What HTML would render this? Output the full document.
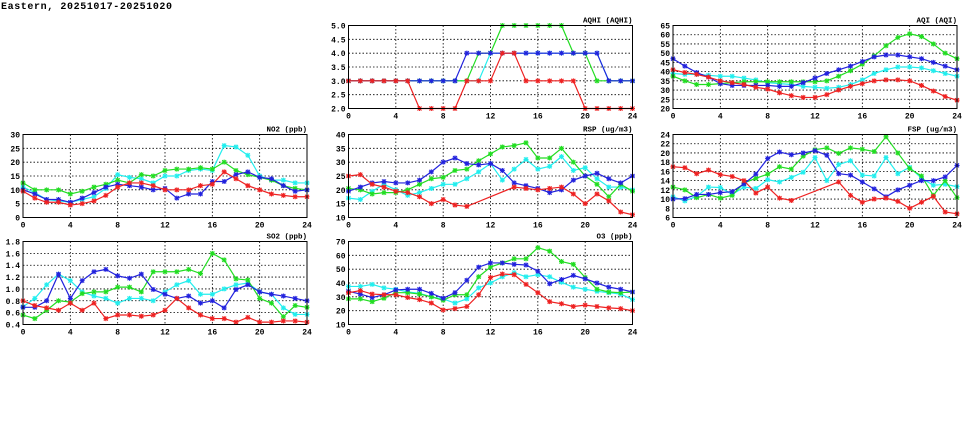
<!DOCTYPE html>
<html><head><meta charset="utf-8"><style>
body{margin:0;background:#fff;width:975px;height:447px;overflow:hidden}
svg{display:block}
text{font-family:"Liberation Mono",monospace;font-weight:bold;font-size:8px;fill:#000}
</style></head><body>
<svg id="s" width="975" height="447" xmlns="http://www.w3.org/2000/svg">
<text x="1" y="9" style="font-size:10px;letter-spacing:0.6px">Eastern, 20251017-20251020</text>
</svg>
<script>
const N=null;
const P=[
{t:"AQHI (AQHI)",x:348.5,y:25.5,lo:2,hi:5,st:0.5,d:1,
 c:[3,3,3,3,3,3,3,3,3,3,3,3,4,4,4,4,4,4,4,4,4,4,3,3,3],
 g:[3,3,3,3,3,3,3,3,3,3,3,4,4,5,5,5,5,5,5,4,4,3,3,3,3],
 b:[3,3,3,3,3,3,3,3,3,3,4,4,4,4,4,4,4,4,4,4,4,4,3,3,3],
 r:[3,3,3,3,3,3,2,2,2,2,3,3,3,4,4,3,3,3,3,3,2,2,2,2,2]},
{t:"AQI (AQI)",x:673,y:25.5,lo:20,hi:65,st:5,d:0,
 b:[47,43,39.5,37,33.5,32.5,32.5,32.5,32.5,32,32,34,36.5,39,41,43,45.5,48,49,49,48,47,45,43,41],
 g:[37.5,35,33,33,33.5,34,34.5,34.5,34.5,34.5,34.5,34.5,34.5,35,37.5,40.5,44,48.5,54,58.5,60.5,59,55,50,47],
 c:[39,38.5,38.5,38,37.5,37.5,36.5,35.5,34,33.5,33,32,31.5,31,31.5,33,35.5,39,41,42.5,42.5,42,40.5,39,37.5],
 r:[41,39.5,38.5,37,35,34,33,31.5,30.5,28.5,27,26,26,27.5,30,32,33.5,35,35.5,35.5,35,32.5,29.5,26.5,24.5]},
{t:"NO2 (ppb)",x:23,y:134.5,lo:0,hi:30,st:5,d:0,
 r:[9.5,7,5.5,5.5,4.5,5,6,8,11,12.5,12.5,11.5,10,10,10,11.5,12,16.5,14,11.5,10,8.5,8,7.5,7.5],
 g:[12.5,10,10,10,8.5,9.5,11,12,13.5,12.5,15.5,15,17,17.5,17.5,18,17.5,20,17,15.5,14.5,13.5,11.5,10.5,10],
 c:[11,9,6.5,6,5.5,6.5,7.5,10.5,15.5,14.5,14,12.5,15,15,17,17.5,17,26,25.5,22.5,15,13.5,13.5,12.5,12.5],
 b:[10,8.5,6.5,6.5,5.5,7,9,11,12,11.5,11,10,10.5,7,8.5,8.5,13,13,15.5,16.5,14.5,14,11.5,9.5,10]},
{t:"RSP (ug/m3)",x:348.5,y:134.5,lo:10,hi:40,st:5,d:0,
 r:[25,25.5,22,21,19.5,19,17.5,15,16.5,14.5,14,N,N,N,21,20.5,20,20.5,21,18.5,15,18.5,16,12,11],
 g:[20.5,20,18.5,19,19,20,22,24,24.5,27,27.5,30.5,33,35.5,36,37,31.5,31.5,35,30,25,22,17.5,22,19.5],
 c:[17,16.5,19.5,22,20,18,19,20.5,22,22,24,26.5,29.5,23.5,27.5,31,27.5,28.5,32,27,28,24,21,21,20],
 b:[19.5,21,22.5,23,22.5,22.5,23.5,26.5,30,31.5,29.5,29,29.5,27,22.5,21.5,20.5,19,20,23.5,25,26,24,22.5,25]},
{t:"FSP (ug/m3)",x:673,y:134.5,lo:6,hi:24,st:2,d:0,
 r:[17,16.8,15.5,16.3,15.3,14.9,14,11.3,12.6,10.2,9.7,N,N,N,13.7,10.8,9.3,10,10.2,9.5,8,9.3,10.6,7.2,6.8],
 g:[12.6,12,10.3,11,10.2,10.8,13.5,14.5,15.4,17,16.5,19.3,20.7,21.1,19.9,21.1,20.8,20.3,23.5,20,16.6,15,10.8,14,10.3],
 c:[10.5,9.6,10.6,12.6,12.5,11,12.6,12.3,14.2,13.7,14.7,15.8,19,14,17.5,18.3,15.2,15,19,15.5,16.9,14.5,13,13.2,12.7],
 b:[10,10.1,11,11,11.4,11.6,13.3,15.4,18.8,20.2,19.6,20,20.5,19.5,15.5,15.2,13.7,12.2,10.5,12,13,14,14,14.8,17.3]},
{t:"SO2 (ppb)",x:23,y:241.5,lo:0.4,hi:1.8,st:0.2,d:1,
 r:[.8,.72,.68,.64,.76,.64,.76,.5,.56,.56,.54,.56,.64,.84,.68,.56,.5,.5,.44,.52,.44,.44,.46,.46,.44],
 g:[.56,.5,.64,.8,.78,.92,.95,.95,1.03,1.03,.95,1.29,1.29,1.29,1.33,1.26,1.6,1.49,1.17,1.15,.84,.76,.53,.72,.69],
 c:[.7,.84,1.07,1.25,1.14,.95,.88,.84,.76,.84,.84,.8,.95,1.07,1.14,.91,.91,1.0,1.07,1.1,.95,.91,.68,.57,.57],
 b:[.69,.69,.8,1.25,.84,1.14,1.29,1.33,1.22,1.18,1.25,.99,.91,.84,.88,.76,.8,.68,.99,1.07,.95,.91,.88,.84,.8]},
{t:"O3 (ppb)",x:348.5,y:241.5,lo:10,hi:70,st:10,d:0,
 r:[33,34.5,32,31.5,31.5,29.5,28,25.5,20.5,21.5,23,31.5,44,46.5,46,39,33,26.5,25,23,24,23,22,21.5,20],
 g:[28.5,28.5,26.5,29,33,33,32,30,27.5,31.5,31.5,44.5,51.5,54.5,57.5,57.5,65.5,63,55.5,53.5,44,35.5,33.5,33,33.5],
 c:[37.5,37.5,39,36.5,35.5,33.5,32.5,30,28.5,25.5,28.5,36.5,40,44.5,47.5,44.5,46,44.5,40.5,37,35.5,34,33,32,28],
 b:[34,32,29.5,31.5,35,35.5,35.5,32.5,29,33,42,51.5,54.5,54.5,53.5,53,48.5,39.5,42.5,45.5,43,40,37,35.5,33.5]}
];
const W=284,H=83;
const col={c:"#22eeee",g:"#22dd22",b:"#2222dd",r:"#ee2222"};
let h="";
for(const p of P){
 const X=i=>p.x+i*W/24, Y=v=>p.y+H-(v-p.lo)/(p.hi-p.lo)*H;
 h+=`<text x="${p.x+W}" y="${p.y-3}" text-anchor="end" style="font-size:7.5px">${p.t}</text>`;
 for(let v=p.lo;v<=p.hi+1e-9;v+=p.st){
  const y=Y(v);
  if(v>p.lo+1e-9&&v<p.hi-1e-9)h+=`<line x1="${p.x}" x2="${p.x+W}" y1="${y}" y2="${y}" stroke="#000" stroke-width="0.8" stroke-dasharray="1.5,2"/>`;
  h+=`<text x="${p.x-3}" y="${y+3}" text-anchor="end">${v.toFixed(p.d)}</text>`;
 }
 for(let i=0;i<=24;i+=4){
  const x=X(i);
  if(i>0&&i<24)h+=`<line x1="${x}" x2="${x}" y1="${p.y}" y2="${p.y+H}" stroke="#000" stroke-width="0.8" stroke-dasharray="1.5,2"/>`;
  h+=`<text x="${x}" y="${p.y+H+10}" text-anchor="middle">${i}</text>`;
 }
 for(const k of ["c","g","b","r"]){
  const a=p[k];let pts=[];
  a.forEach((v,i)=>{if(v!==null)pts.push([X(i),Y(v)])});
  h+=`<polyline fill="none" stroke="${col[k]}" stroke-width="1.2" points="${pts.map(q=>q.join(",")).join(" ")}"/>`;
  let m="";
  for(const [x,y] of pts){m+=`M${x-2.5},${y}h5M${x},${y-2.5}v5M${x-2},${y-2}l4,4M${x-2},${y+2}l4,-4`;}
  h+=`<path d="${m}" stroke="${col[k]}" stroke-width="1.1" fill="none"/>`;
 }
 h+=`<rect x="${p.x}" y="${p.y}" width="${W}" height="${H}" fill="none" stroke="#000" stroke-width="1"/>`;
}
document.getElementById("s").insertAdjacentHTML("beforeend",h);
</script>
</body></html>
